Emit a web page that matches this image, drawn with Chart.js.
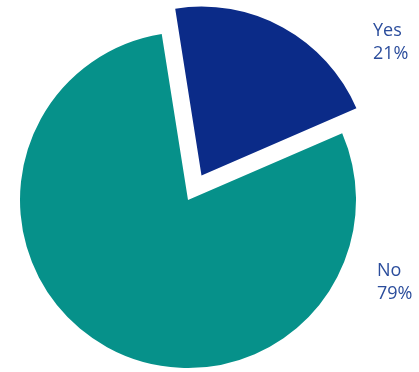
<!DOCTYPE html>
<html>
<head>
<meta charset="utf-8">
<script src="https://cdn.jsdelivr.net/npm/chart.js@4/dist/chart.umd.min.js"></script>
<style>
  html, body { margin: 0; padding: 0; background: #fff; }
  #wrap { position: relative; width: 419px; height: 372px; }
</style>
</head>
<body>
<div id="wrap"><canvas id="graph"></canvas></div>
<script>
"use strict";

const categories = ["Yes", "No"];
const shares = [21, 79];
const sliceColors = ["#0b2b88", "#06918a"];

// text sits to the right of the pie, one block per slice
const sideLabels = {
  id: "sideLabels",
  afterDatasetsDraw(chart, args, opts) {
    const ctx = chart.ctx;
    const meta = chart.getDatasetMeta(0);
    const base = meta.controller;
    const cx = (chart.chartArea.left + chart.chartArea.right) / 2;
    const cy = (chart.chartArea.top + chart.chartArea.bottom) / 2;
    const r = base.outerRadius;
    ctx.save();
    ctx.fillStyle = opts.color;
    ctx.font = opts.font;
    ctx.textAlign = "left";
    ctx.textBaseline = "alphabetic";
    categories.forEach((cat, i) => {
      const [dx, dy] = opts.offsets[i];
      const x = cx + r + dx;
      const y = cy + dy;
      ctx.fillText(cat, x, y);
      ctx.fillText(shares[i] + "%", x, y + opts.lineHeight);
    });
    ctx.restore();
  },
};

document.addEventListener("DOMContentLoaded", () => {
  const ctx = document.getElementById("graph").getContext("2d");
  new Chart(ctx, {
    type: "pie",
    data: {
      labels: categories,
      datasets: [
        {
          data: shares,
          backgroundColor: sliceColors,
          borderWidth: 0,
          // arc offset is divided by 4 when drawn, so this pulls Yes out ~28px
          offset: [112, 0],
          hoverOffset: 0,
        },
      ],
    },
    options: {
      responsive: true,
      maintainAspectRatio: false,
      animation: false,
      rotation: -9,
      radius: 168,
      layout: { padding: { left: 0, right: 43, top: 28, bottom: 0 } },
      plugins: {
        legend: { display: false },
        tooltip: { enabled: false },
        sideLabels: {
          color: "#2b4d9c",
          font: "18px 'Open Sans', sans-serif",
          lineHeight: 23,
          offsets: [
            [17, -164],
            [21, 76],
          ],
        },
      },
    },
    plugins: [sideLabels],
  });
});
</script>
</body>
</html>
